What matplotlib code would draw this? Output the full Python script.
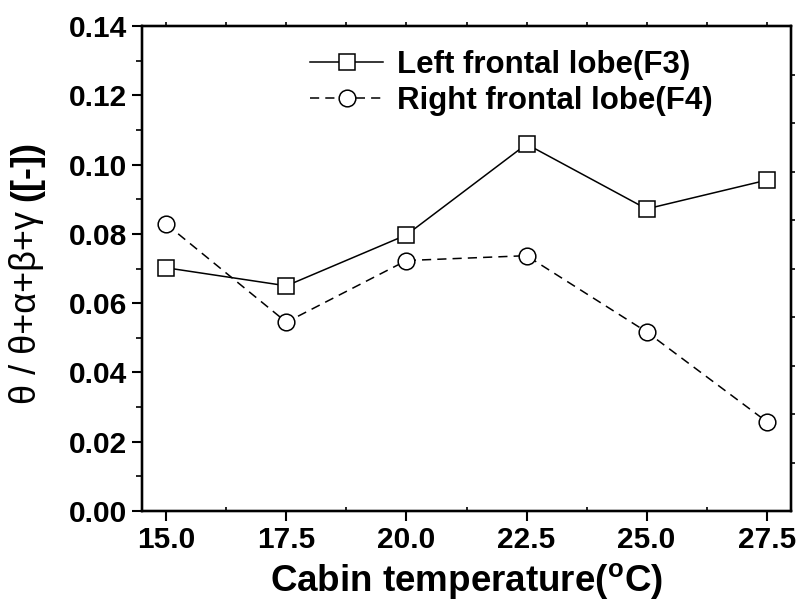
import matplotlib
matplotlib.use("Agg")
import matplotlib.pyplot as plt
import numpy as np

plt.rcParams['font.family'] = ['Liberation Sans', 'DejaVu Sans']
plt.rcParams['mathtext.fontset'] = 'custom'
plt.rcParams['mathtext.rm'] = 'Liberation Sans'
plt.rcParams['mathtext.bf'] = 'Liberation Sans:bold'

temperature = [15.0, 17.5, 20.0, 22.5, 25.0, 27.5]
left_f3 = [0.0702, 0.0650, 0.0797, 0.1059, 0.0872, 0.0955]
right_f4 = [0.0828, 0.0545, 0.0723, 0.0737, 0.0517, 0.0258]
series_labels = ['Left frontal lobe(F3)', 'Right frontal lobe(F4)']
x_ticks = [15.0, 17.5, 20.0, 22.5, 25.0, 27.5]
y_ticks = [0.00, 0.02, 0.04, 0.06, 0.08, 0.10, 0.12, 0.14]
xlabel = 'Cabin temperature($^{\\mathbf{o}}$C)'
ylabel_main = 'θ / θ+α+β+γ '
ylabel_unit = '([-])'

fig = plt.figure(figsize=(8.02, 6.09), dpi=100)
ax = fig.add_axes([142.3 / 802, 98 / 609, (790.7 - 142.3) / 802, (511 - 26) / 609])

ax.plot(temperature, left_f3, '-', color='black', lw=1.1, marker='s', ms=11,
        mfc='white', mec='black', mew=1.1, label=series_labels[0], zorder=3)
ax.plot(temperature, right_f4, '--', color='black', lw=1.1, dashes=(6, 4), marker='o', ms=12,
        mfc='white', mec='black', mew=1.1, label=series_labels[1], zorder=3)

ax.set_xlim(14.5, 28.0)
ax.set_ylim(0, 0.14)
ax.set_xticks(x_ticks)
ax.set_xticklabels([f'{v:.1f}' for v in x_ticks])
ax.set_xticks(np.arange(16.25, 28, 2.5), minor=True)
ax.set_yticks(y_ticks)
ax.set_yticklabels([f'{v:.2f}' for v in y_ticks])
ax.set_yticks(np.arange(0.01, 0.14, 0.02), minor=True)

for sp in ax.spines.values():
    sp.set_linewidth(1.6)

ax.tick_params(axis='both', which='major', direction='out', length=7, width=1.5,
               labelsize=21.5, pad=4)
ax.tick_params(axis='x', which='minor', direction='in', length=3, width=1.2)
ax.tick_params(axis='y', which='minor', direction='out', length=4, width=1.2)
for lab in ax.get_xticklabels() + ax.get_yticklabels():
    lab.set_fontweight('bold')

# right-side and top ticks
axr = ax.twinx()
axr.set_ylim(0, 0.14)
axr.set_yticks(np.arange(0.014, 0.14, 0.014))
axr.tick_params(axis='y', direction='out', length=3, width=1.2, labelright=False)
axt = ax.twiny()
axt.set_xlim(14.5, 28.0)
axt.set_xticks(np.arange(15.0, 28, 1.25))
axt.tick_params(axis='x', direction='out', length=3, width=1.2, labeltop=False)
for a in (axr, axt):
    for sp in a.spines.values():
        sp.set_linewidth(1.6)

ax.set_xlabel(xlabel, fontsize=26.5, fontweight='bold', labelpad=5)

leg = ax.legend(loc='upper left', bbox_to_anchor=(0.2586, 0.95), frameon=False,
                prop={'size': 22.5, 'weight': 'bold'}, handlelength=2.35,
                handletextpad=0.45, labelspacing=0.17, borderpad=0, borderaxespad=0)

# y label: regular greek part + bold unit part
yl_x = 27 / 802
t1 = fig.text(yl_x, (609 - 404) / 609, ylabel_main, rotation=90, fontsize=26,
              ha='center', va='bottom', rotation_mode='default')
fig.canvas.draw()
bb = t1.get_window_extent()
fig.text(yl_x, bb.y1 / fig.bbox.height, ylabel_unit, rotation=90, fontsize=26,
         fontweight='bold', ha='center', va='bottom')

fig.savefig('out.png', dpi=100)
